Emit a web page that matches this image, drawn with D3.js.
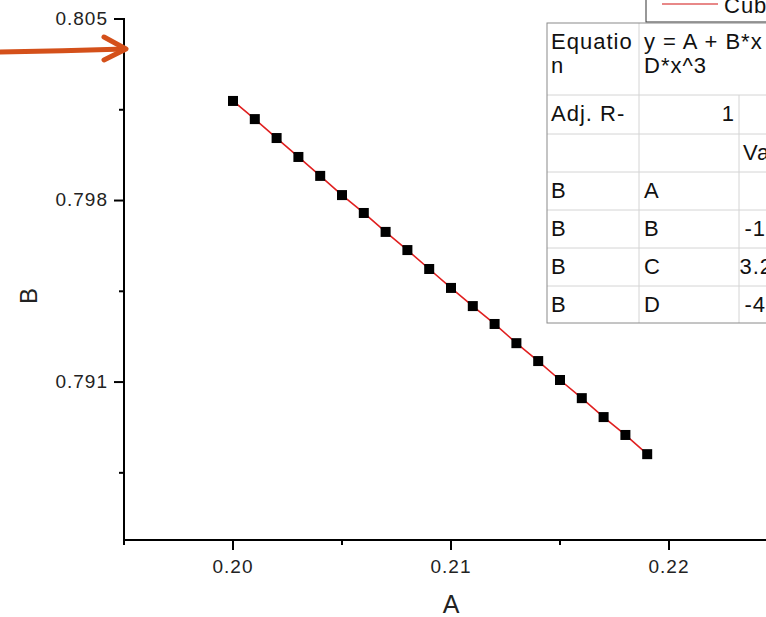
<!DOCTYPE html>
<html>
<head>
  <script src="https://d3js.org/d3.v7.min.js"></script>
  <style>
    body { margin: 0; background: #fff; }
    svg { display: block; font-family: "Liberation Sans", Arial, sans-serif; }
    .tick-label { font-size: 19px; fill: #222; letter-spacing: 1px; }
    .cell { font-size: 22px; fill: #111; letter-spacing: 1px; }
  </style>
</head>
<body>
<div id="chart"></div>
<script>
  // data
  const xValues = [0.200, 0.201, 0.202, 0.203, 0.204, 0.205, 0.206, 0.207, 0.208, 0.209,
                   0.210, 0.211, 0.212, 0.213, 0.214, 0.215, 0.216, 0.217, 0.218, 0.219];
  const yValues = [0.80184, 0.80114, 0.80041, 0.79968, 0.79895, 0.79821, 0.79752, 0.79679, 0.79609, 0.79536,
                   0.79463, 0.79393, 0.79324, 0.79250, 0.79181, 0.79108, 0.79038, 0.78965, 0.78896, 0.78822];
  const xTicks = [0.20, 0.21, 0.22, 0.23];
  const xMinor = [0.195, 0.205, 0.215, 0.225];
  const yTicks = [0.791, 0.798, 0.805];
  const yMinor = [0.7875, 0.7945, 0.8015];

  // fit report table
  const legendText = "Cubic Fit";
  const tableRows = [
    ["Adj. R-Square", "1", "", ""],
    ["", "", "Value", "Standard Error"],
    ["B", "A", "0.96", ""],
    ["B", "B", "-1.0583", ""],
    ["B", "C", "3.26104", ""],
    ["B", "D", "-4.7921", ""]
  ];
  const equationLines = ["y = A + B*x + C*x^2 +", "D*x^3"];

  const W = 766, H = 617;
  const svg = d3.select("#chart").append("svg")
    .attr("width", W).attr("height", H);
  svg.append("rect").attr("width", W).attr("height", H).attr("fill", "#fff");

  const x = d3.scaleLinear().domain([0.195, 0.23]).range([124, 887]);
  const y = d3.scaleLinear().domain([0.78491, 0.805]).range([540, 19]);

  // x axis
  const xAxis = svg.append("g").attr("transform", "translate(0,540)");
  xAxis.append("line").attr("x1", 123).attr("x2", 900)
    .attr("stroke", "#000").attr("stroke-width", 2);
  xAxis.selectAll(".maj").data(xTicks).join("line")
    .attr("class", "maj")
    .attr("x1", d => x(d)).attr("x2", d => x(d)).attr("y1", 0).attr("y2", 10)
    .attr("stroke", "#000").attr("stroke-width", 2);
  xAxis.selectAll(".min").data(xMinor).join("line")
    .attr("class", "min")
    .attr("x1", d => x(d)).attr("x2", d => x(d)).attr("y1", 0).attr("y2", 5)
    .attr("stroke", "#000").attr("stroke-width", 2);
  xAxis.selectAll("text").data(xTicks).join("text")
    .attr("class", "tick-label")
    .attr("x", d => x(d)).attr("y", 33)
    .attr("text-anchor", "middle")
    .text(d => d3.format(".2f")(d));

  // y axis
  const yAxis = svg.append("g").attr("transform", "translate(124,0)");
  yAxis.append("line").attr("y1", 18).attr("y2", 541)
    .attr("stroke", "#000").attr("stroke-width", 2);
  yAxis.selectAll(".maj").data(yTicks).join("line")
    .attr("class", "maj")
    .attr("y1", d => y(d)).attr("y2", d => y(d)).attr("x1", 0).attr("x2", -10)
    .attr("stroke", "#000").attr("stroke-width", 2);
  yAxis.selectAll(".min").data(yMinor).join("line")
    .attr("class", "min")
    .attr("y1", d => y(d)).attr("y2", d => y(d)).attr("x1", 0).attr("x2", -5)
    .attr("stroke", "#000").attr("stroke-width", 2);
  yAxis.selectAll("text").data(yTicks).join("text")
    .attr("class", "tick-label")
    .attr("x", -16).attr("y", d => y(d)).attr("dy", "0.3em")
    .attr("text-anchor", "end")
    .text(d => d3.format(".3f")(d));

  // axis titles
  svg.append("text").attr("x", 451).attr("y", 613)
    .attr("text-anchor", "middle").attr("font-size", 25).attr("fill", "#222")
    .text("A");
  svg.append("text")
    .attr("transform", "translate(37,296) rotate(-90)")
    .attr("text-anchor", "middle").attr("font-size", 24).attr("fill", "#222")
    .text("B");

  // fit line and points
  const pts = xValues.map((v, i) => [v, yValues[i]]);
  svg.append("path").datum(pts)
    .attr("fill", "none").attr("stroke", "#e02020").attr("stroke-width", 1.6)
    .attr("d", d3.line().x(d => x(d[0])).y(d => y(d[1])));
  const sz = 10;
  svg.selectAll(".pt").data(pts).join("rect")
    .attr("class", "pt")
    .attr("x", d => x(d[0]) - sz / 2).attr("y", d => y(d[1]) - sz / 2)
    .attr("width", sz).attr("height", sz).attr("fill", "#000");

  // legend box (cut off at the top)
  const leg = svg.append("g");
  leg.append("rect").attr("x", 646).attr("y", -30).attr("width", 200).attr("height", 52)
    .attr("fill", "#fff").attr("stroke", "#333").attr("stroke-width", 1);
  leg.append("line").attr("x1", 662).attr("x2", 718).attr("y1", 4).attr("y2", 4)
    .attr("stroke", "#e06060").attr("stroke-width", 1.6);
  leg.append("text").attr("x", 724).attr("y", 13).attr("class", "cell").text(legendText);

  // fit report table
  const tx = 547, colX = [547, 639, 739, 839, 960];
  const rowTop = [23, 95, 134, 172, 210, 248, 286, 323];
  const tbl = svg.append("g");
  tbl.append("rect").attr("x", tx).attr("y", rowTop[0])
    .attr("width", colX[4] - tx).attr("height", rowTop[7] - rowTop[0])
    .attr("fill", "#fff");
  // inner grid
  tbl.selectAll(".hl").data(rowTop.slice(1, 7)).join("line")
    .attr("class", "hl")
    .attr("x1", tx).attr("x2", colX[4]).attr("y1", d => d).attr("y2", d => d)
    .attr("stroke", "#d4d4d4");
  tbl.append("line").attr("x1", colX[1]).attr("x2", colX[1])
    .attr("y1", rowTop[0]).attr("y2", rowTop[7]).attr("stroke", "#d4d4d4");
  [colX[2], colX[3]].forEach(cx => {
    tbl.append("line").attr("x1", cx).attr("x2", cx)
      .attr("y1", rowTop[1]).attr("y2", rowTop[7]).attr("stroke", "#d4d4d4");
  });
  tbl.append("rect").attr("x", tx).attr("y", rowTop[0])
    .attr("width", colX[4] - tx).attr("height", rowTop[7] - rowTop[0])
    .attr("fill", "none").attr("stroke", "#8a8a8a");

  // header row: Equation
  tbl.append("text").attr("class", "cell").attr("x", tx + 4).attr("y", 49).text("Equatio");
  tbl.append("text").attr("class", "cell").attr("x", tx + 4).attr("y", 73).text("n");
  equationLines.forEach((t, i) => {
    tbl.append("text").attr("class", "cell")
      .attr("x", colX[1] + 5).attr("y", 49 + i * 24).text(t);
  });

  // remaining rows
  tableRows.forEach((r, i) => {
    const by = rowTop[i + 1] + 26;
    const first = i === 0 ? "Adj. R-" : r[0];
    tbl.append("text").attr("class", "cell").attr("x", tx + 4).attr("y", by).text(first);
    if (i === 0) {
      tbl.append("text").attr("class", "cell").attr("x", colX[2] - 4).attr("y", by)
        .attr("text-anchor", "end").text(r[1]);
    } else {
      tbl.append("text").attr("class", "cell").attr("x", colX[1] + 5).attr("y", by).text(r[1]);
    }
    if (i === 1) {
      tbl.append("text").attr("class", "cell").attr("x", colX[2] + 4).attr("y", by).text(r[2]);
      tbl.append("text").attr("class", "cell").attr("x", colX[3] + 4).attr("y", by).text(r[3]);
    } else if (r[2]) {
      tbl.append("text").attr("class", "cell").attr("x", 826).attr("y", by)
        .attr("text-anchor", "end").text(r[2]);
    }
  });

  // annotation arrow pointing at the top of the y axis
  const arrow = svg.append("g").attr("fill", "none").attr("stroke", "#d4501a")
    .attr("stroke-width", 5).attr("stroke-linecap", "round").attr("stroke-linejoin", "round");
  arrow.append("path").attr("d", "M-5,52 Q60,51 125,49");
  arrow.append("path").attr("d", "M104,37 L126,49 L104,60");
</script>
</body>
</html>
